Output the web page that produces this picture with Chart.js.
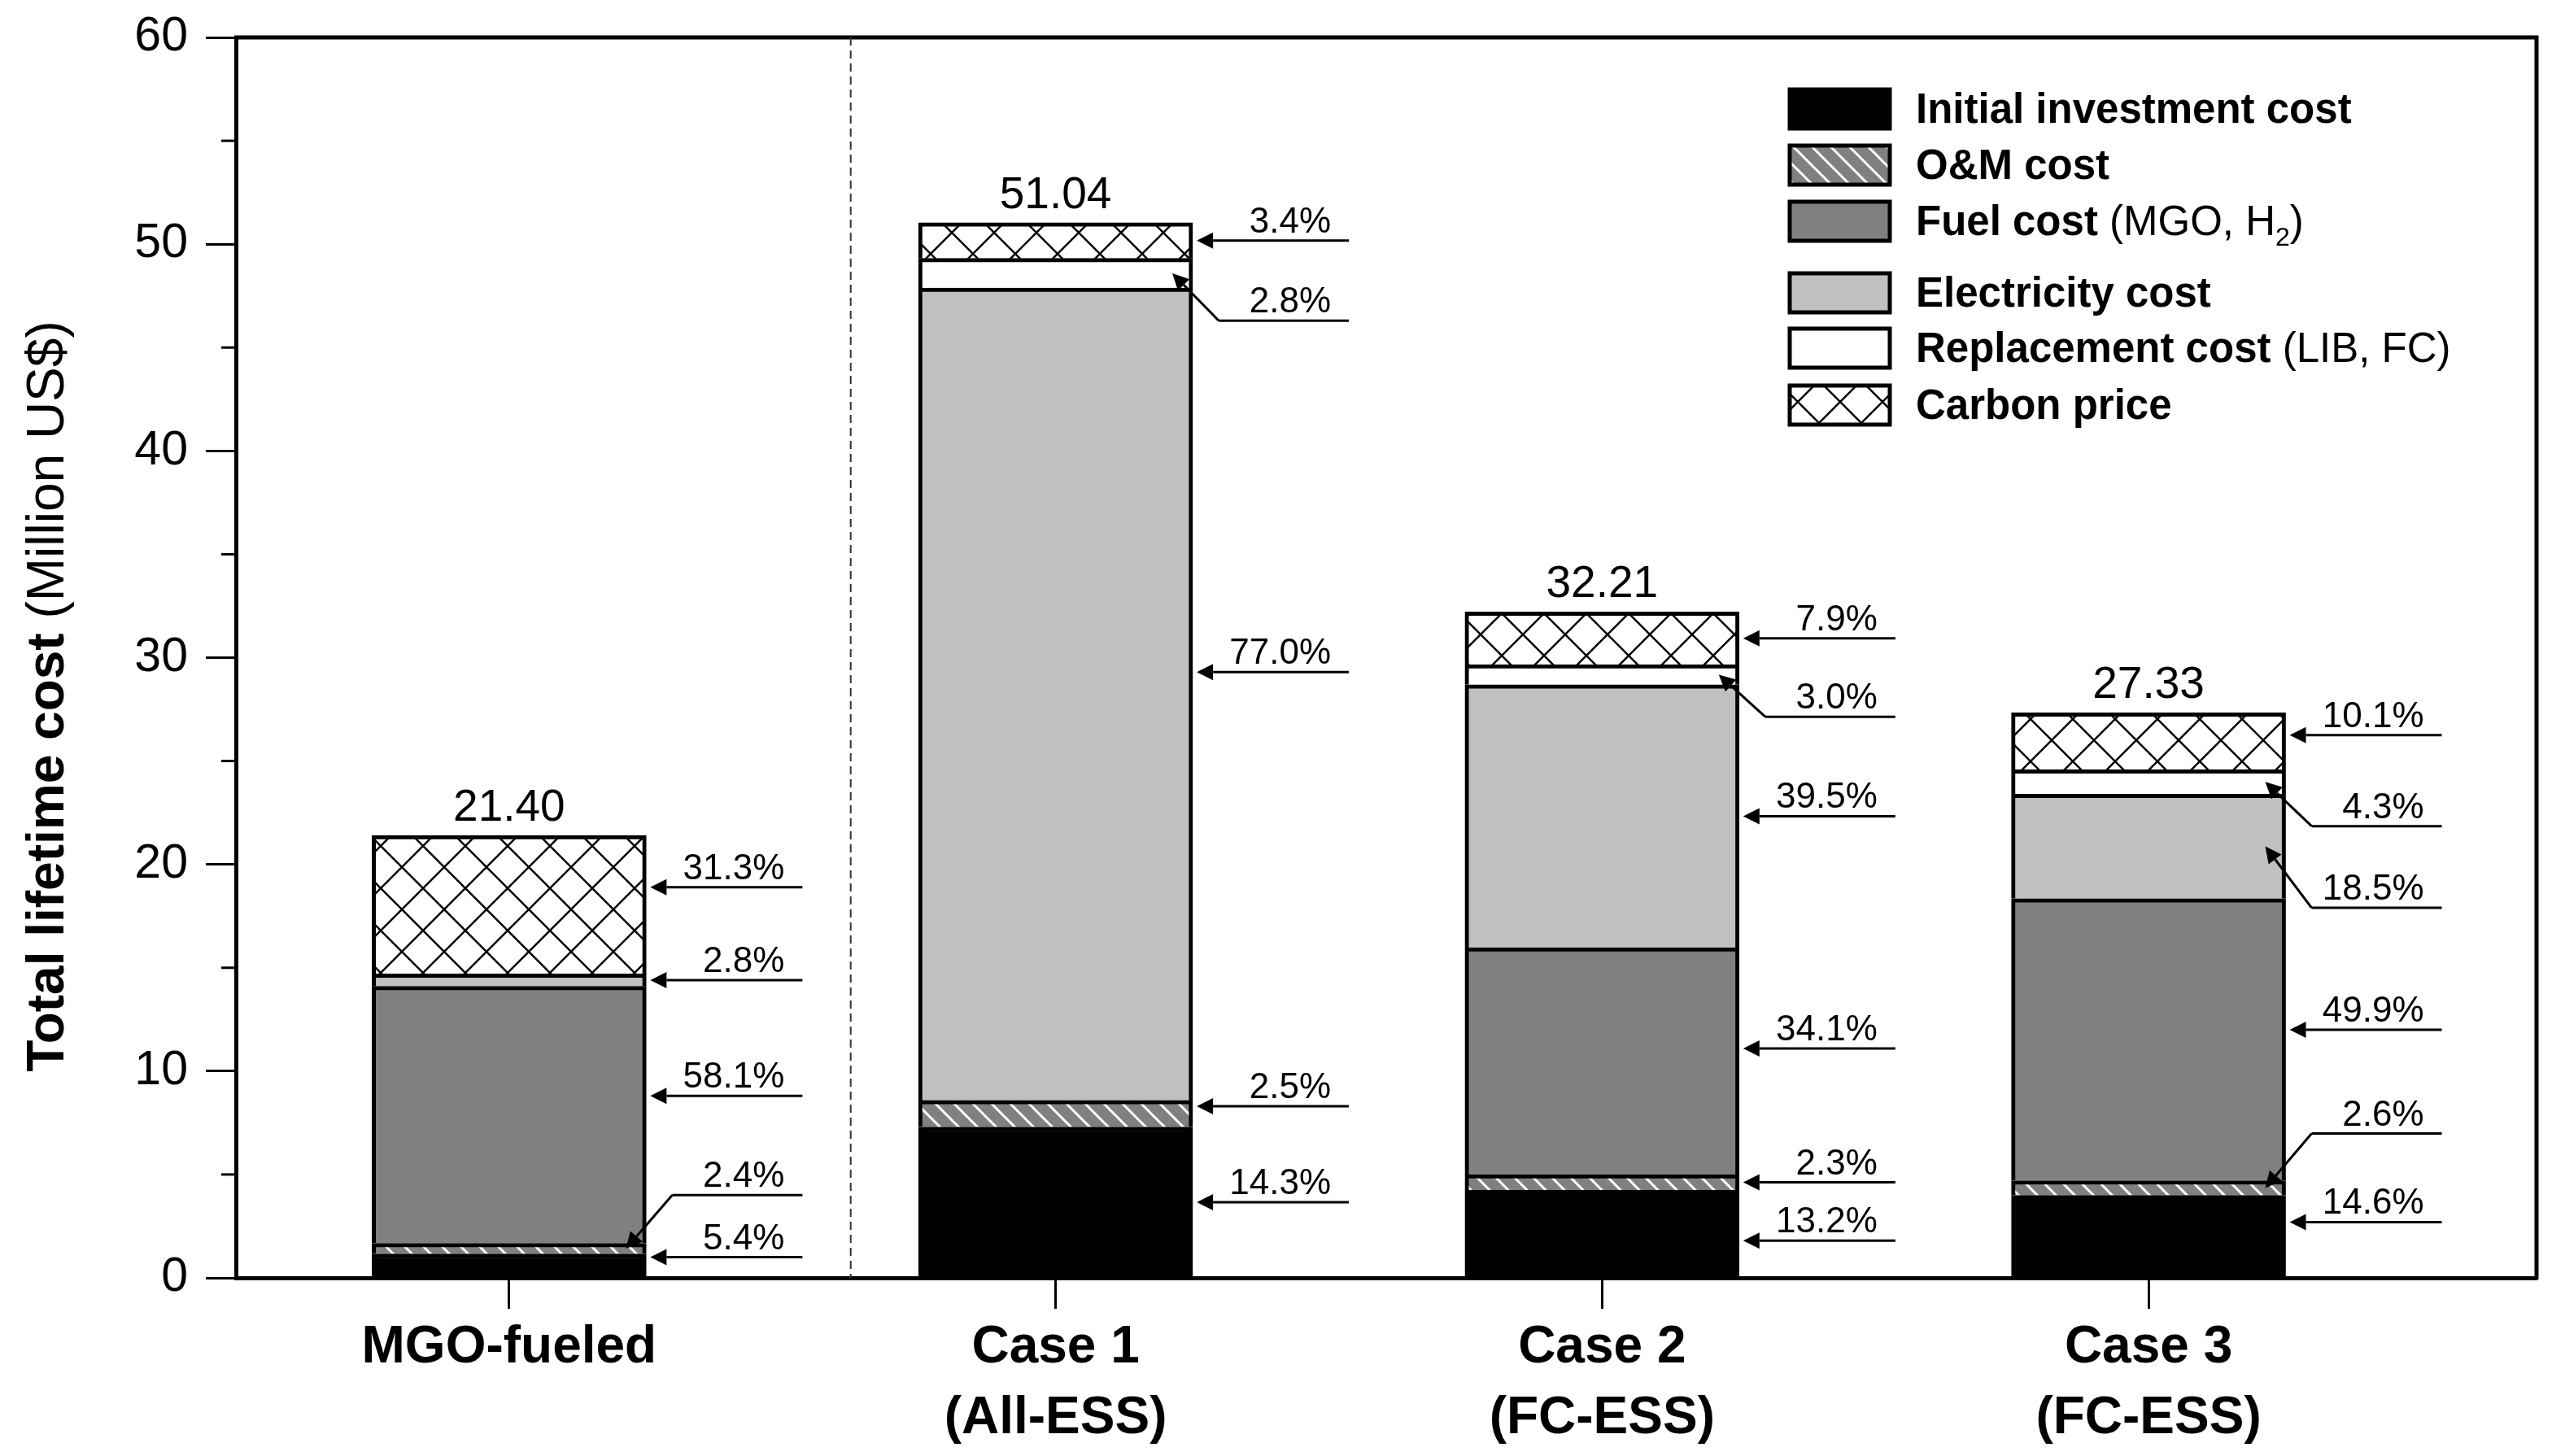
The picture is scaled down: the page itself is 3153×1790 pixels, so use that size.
<!DOCTYPE html>
<html>
<head>
<meta charset="utf-8">
<script src="https://cdn.jsdelivr.net/npm/chart.js@4.4.1/dist/chart.umd.min.js"></script>
<style>
  html, body { margin: 0; padding: 0; background: #fff; }
  canvas { display: block; }
</style>
</head>
<body>
<canvas id="chart" width="3153" height="1790"></canvas>
<script>
// categories and totals
const categories = ['MGO-fueled', ['Case 1', '(All-ESS)'], ['Case 2', '(FC-ESS)'], ['Case 3', '(FC-ESS)']];
const totals = [21.40, 51.04, 32.21, 27.33];

// cost components, Million US$
const initialCost = [1.16, 7.30, 4.25, 3.99];
const omCost = [0.51, 1.28, 0.74, 0.71];
const fuelCost = [12.43, 0, 10.98, 13.64];
const electricityCost = [0.60, 39.30, 12.72, 5.06];
const replacementCost = [0, 1.43, 0.97, 1.18];
const carbonPrice = [6.70, 1.73, 2.55, 2.75];

// share labels
const initialPct = ['5.4%', '14.3%', '13.2%', '14.6%'];
const omPct = ['2.4%', '2.5%', '2.3%', '2.6%'];
const fuelPct = ['58.1%', null, '34.1%', '49.9%'];
const electricityPct = ['2.8%', '77.0%', '39.5%', '18.5%'];
const replacementPct = [null, '2.8%', '3.0%', '4.3%'];
const carbonPct = ['31.3%', '3.4%', '7.9%', '10.1%'];

const yTicks = [0, 10, 20, 30, 40, 50, 60];

// where each callout line sits (axis units), "dataset-bar"; missing = segment middle
const calloutY = {
  '5-0': 18.9, '2-0': 8.8, '1-0': 4.0, '0-0': 1.0,
  '1-1': 8.3, '3-1': 29.3, '4-1': 46.3,
  '0-2': 1.8, '2-2': 11.1, '4-2': 27.14,
  '0-3': 2.7, '1-3': 6.98, '2-3': 12.0, '3-3': 17.9, '4-3': 21.85, '5-3': 26.25
};

const FONT = '"Liberation Sans", Arial, Helvetica, sans-serif';
Chart.defaults.font.family = FONT;
Chart.defaults.color = '#000';

const canvas = document.getElementById('chart');
const ctx = canvas.getContext('2d');

function makeCross() {
  const s = 52, c = document.createElement('canvas');
  c.width = s; c.height = s;
  const g = c.getContext('2d');
  g.fillStyle = '#fff'; g.fillRect(0, 0, s, s);
  g.strokeStyle = '#000'; g.lineWidth = 2.5;
  g.beginPath();
  g.moveTo(0, 0); g.lineTo(s, s);
  g.moveTo(s, 0); g.lineTo(0, s);
  g.stroke();
  return ctx.createPattern(c, 'repeat');
}

function makeHatch() {
  const s = 23, c = document.createElement('canvas');
  c.width = s; c.height = s;
  const g = c.getContext('2d');
  g.fillStyle = '#808080'; g.fillRect(0, 0, s, s);
  g.strokeStyle = '#fff'; g.lineWidth = 3;
  g.beginPath();
  g.moveTo(0, 0); g.lineTo(s, s);
  g.moveTo(-s, 0); g.lineTo(s, 2 * s);
  g.moveTo(0, -s); g.lineTo(2 * s, s);
  g.stroke();
  return ctx.createPattern(c, 'repeat');
}

const series = [
  { label: 'Initial investment cost', values: initialCost, pct: initialPct, fill: '#000' },
  { label: 'O&M cost', values: omCost, pct: omPct, fill: makeHatch() },
  { label: 'Fuel cost (MGO, H2)', values: fuelCost, pct: fuelPct, fill: '#808080' },
  { label: 'Electricity cost', values: electricityCost, pct: electricityPct, fill: '#c0c0c0' },
  { label: 'Replacement cost (LIB, FC)', values: replacementCost, pct: replacementPct, fill: '#fff' },
  { label: 'Carbon price', values: carbonPrice, pct: carbonPct, fill: makeCross() }
];

const legendText = [
  [{ t: 'Initial investment cost', b: true }],
  [{ t: 'O&M cost', b: true }],
  [{ t: 'Fuel cost', b: true }, { t: ' (MGO, H' }, { t: '2', sub: true }, { t: ')' }],
  [{ t: 'Electricity cost', b: true }],
  [{ t: 'Replacement cost', b: true }, { t: ' (LIB, FC)' }],
  [{ t: 'Carbon price', b: true }]
];
const legendRows = [88, 157, 226, 314, 382, 452];

function arrow(c, fx, fy, tx, ty) {
  const a = Math.atan2(ty - fy, tx - fx), L = 20, W = 10;
  const bx = tx - L * Math.cos(a), by = ty - L * Math.sin(a);
  c.beginPath();
  c.moveTo(fx, fy); c.lineTo(bx, by); c.stroke();
  c.beginPath();
  c.moveTo(tx, ty);
  c.lineTo(bx - W * Math.sin(a), by + W * Math.cos(a));
  c.lineTo(bx + W * Math.sin(a), by - W * Math.cos(a));
  c.closePath(); c.fill();
}

const overlay = {
  id: 'overlay',
  afterDatasetsDraw(chart) {
    const c = chart.ctx, area = chart.chartArea;
    const xs = chart.scales.x, ys = chart.scales.y;
    c.save();
    c.strokeStyle = '#000'; c.fillStyle = '#000';

    // frame top and right
    c.lineWidth = 5;
    c.beginPath();
    c.moveTo(area.left - 2, area.top); c.lineTo(area.right, area.top); c.lineTo(area.right, area.bottom + 2);
    c.stroke();

    // minor ticks
    c.lineWidth = 3;
    for (let v = 5; v < 60; v += 10) {
      const py = ys.getPixelForValue(v);
      c.beginPath(); c.moveTo(area.left - 18, py); c.lineTo(area.left, py); c.stroke();
    }

    // dashed divider
    const dx = xs.getPixelForValue(1.625);
    c.lineWidth = 2; c.strokeStyle = '#333'; c.setLineDash([10, 6]);
    c.beginPath(); c.moveTo(dx, area.top); c.lineTo(dx, area.bottom); c.stroke();
    c.setLineDash([]); c.strokeStyle = '#000';

    // totals
    const base = chart.getDatasetMeta(0);
    c.font = '55px ' + FONT; c.textAlign = 'center'; c.textBaseline = 'alphabetic';
    totals.forEach((t, i) => {
      c.fillText(t.toFixed(2), base.data[i].x, ys.getPixelForValue(t) - 18);
    });

    // callouts
    c.font = '44px ' + FONT; c.textAlign = 'right'; c.lineWidth = 3;
    series.forEach((s, d) => {
      const meta = chart.getDatasetMeta(d);
      s.pct.forEach((txt, i) => {
        if (!txt) return;
        const bar = meta.data[i];
        const right = bar.x + bar.width / 2;
        const top = Math.min(bar.y, bar.base), bottom = Math.max(bar.y, bar.base);
        const mid = (top + bottom) / 2;
        const key = d + '-' + i;
        const lineY = key in calloutY ? ys.getPixelForValue(calloutY[key]) : mid;
        const end = right + 192;
        if (lineY >= top && lineY <= bottom) {
          arrow(c, end, lineY, right + 5, lineY);
        } else {
          const ex = right + 32;
          c.beginPath(); c.moveTo(end, lineY); c.lineTo(ex, lineY); c.stroke();
          arrow(c, ex, lineY, right - 25, mid);
        }
        c.fillText(txt, end - 22, lineY - 10);
      });
    });

    // legend
    const lx = area.right - 918, tx = area.right - 763;
    c.textAlign = 'left';
    legendRows.forEach((ry, k) => {
      const cy = area.top + ry;
      c.fillStyle = chart.data.datasets[k].backgroundColor;
      c.fillRect(lx, cy - 24, 123, 48);
      c.lineWidth = 5; c.strokeStyle = '#000';
      c.strokeRect(lx, cy - 24, 123, 48);
      c.fillStyle = '#000';
      let px = tx;
      legendText[k].forEach(part => {
        if (part.sub) {
          c.font = '32px ' + FONT;
          c.fillText(part.t, px, cy + 30);
        } else {
          c.font = (part.b ? 'bold ' : '') + '51px ' + FONT;
          c.fillText(part.t, px, cy + 17);
        }
        px += c.measureText(part.t).width;
      });
    });

    // y title
    c.save();
    c.translate(78, 856);
    c.rotate(-Math.PI / 2);
    c.font = 'bold 64px ' + FONT;
    const w1 = c.measureText('Total lifetime cost').width;
    c.font = '64px ' + FONT;
    const w2 = c.measureText(' (Million US$)').width;
    let sx = -(w1 + w2) / 2;
    c.font = 'bold 64px ' + FONT;
    c.fillText('Total lifetime cost', sx, 0);
    c.font = '64px ' + FONT;
    c.fillText(' (Million US$)', sx + w1, 0);
    c.restore();

    c.restore();
  }
};

new Chart(ctx, {
  type: 'bar',
  data: {
    datasets: series.map(s => ({
      label: s.label,
      data: s.values.map((v, i) => ({ x: i + 1, y: v === 0 ? null : v })),
      backgroundColor: s.fill,
      borderColor: '#000',
      borderWidth: 5,
      barThickness: 337
    }))
  },
  options: {
    responsive: false,
    devicePixelRatio: 1,
    animation: false,
    layout: { padding: { top: 46, right: 35, left: 0, bottom: 0 } },
    plugins: { legend: { display: false }, tooltip: { enabled: false } },
    scales: {
      x: {
        type: 'linear', stacked: true, min: 0.5, max: 4.71, offset: false,
        afterBuildTicks: s => { s.ticks = categories.map((c, i) => ({ value: i + 1 })); },
        afterFit: s => { s.height = 219; s.paddingLeft = 0; s.paddingRight = 0; },
        grid: { offset: false, drawOnChartArea: false, drawTicks: true, tickLength: 38, tickWidth: 3, tickColor: '#000' },
        border: { display: true, color: '#000', width: 5 },
        ticks: {
          callback: v => categories[v - 1],
          font: { size: 64, weight: 'bold', lineHeight: 1.36 },
          color: '#000', padding: 5, maxRotation: 0, autoSkip: false
        }
      },
      y: {
        stacked: true, min: 0, max: 60,
        afterBuildTicks: s => { s.ticks = yTicks.map(v => ({ value: v })); },
        afterFit: s => { s.width = 290; s.paddingTop = 0; s.paddingBottom = 0; },
        grid: { drawOnChartArea: false, drawTicks: true, tickLength: 37, tickWidth: 3, tickColor: '#000' },
        border: { display: true, color: '#000', width: 5 },
        ticks: { font: { size: 59 }, color: '#000', padding: 22 }
      }
    }
  },
  plugins: [overlay]
});
</script>
</body>
</html>
